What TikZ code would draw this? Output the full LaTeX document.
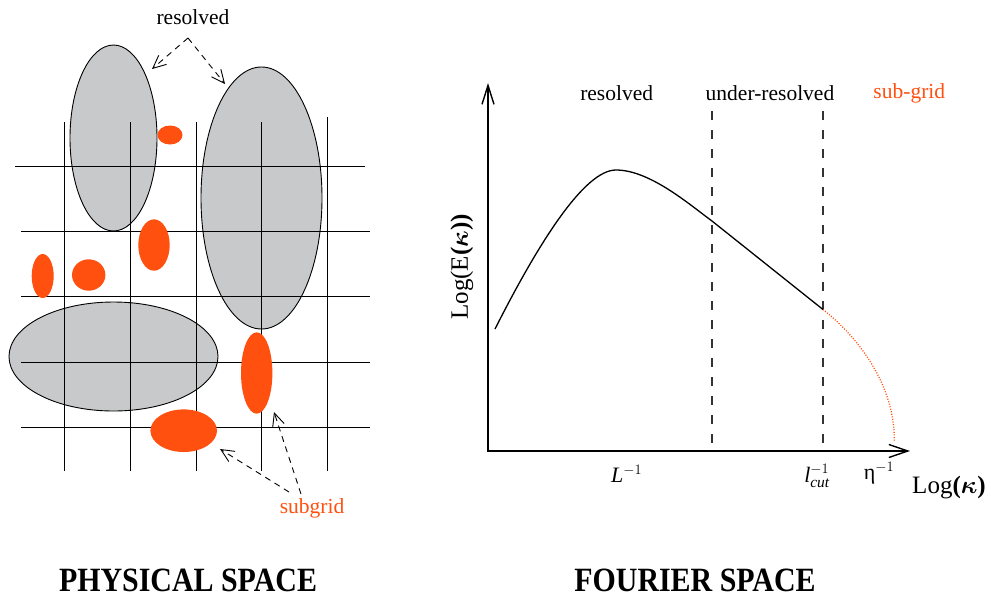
\documentclass[tikz,border=0pt]{standalone}
\usepackage{fontspec}
\setmainfont{Liberation Serif}
\usepackage{amsmath}
\usepackage{bm}
\usetikzlibrary{arrows.meta}
\definecolor{org}{HTML}{FF5010}
\definecolor{gry}{HTML}{C8C9CB}
\begin{document}
\begin{tikzpicture}[x=1pt,y=-1pt,
  grayell/.style={fill=gry,draw=black,line width=0.9pt},
  orgell/.style={fill=org},
  gridline/.style={line width=1.0pt},
  lbl/.style={font=\fontsize{21.5}{24}\selectfont, inner sep=0pt},
  mlbl/.style={font=\fontsize{22}{24}\selectfont, inner sep=0pt},
  biglbl/.style={font=\fontsize{25}{28}\selectfont, inner sep=0pt},
  title/.style={font=\fontsize{34}{36}\selectfont\bfseries, inner sep=0pt},
  dasharrow/.style={line width=0.9pt, dash pattern=on 6pt off 5pt, -{Straight Barb[length=13pt,width=12pt]}},
  axis/.style={line width=1.4pt, {Straight Barb[length=19pt,width=12pt]}-{Straight Barb[length=19pt,width=13pt]}},
  vdash/.style={line width=1.5pt, black!80, dash pattern=on 8.5pt off 10.5pt},
  curve/.style={line width=1.3pt},
  subcurve/.style={org, line width=1.3pt, dash pattern=on 1pt off 1.6pt}]
\useasboundingbox (0,0) rectangle (991,598);

% ---------- physical space ----------
\draw[grayell] (113.5,138) ellipse [x radius=43.5, y radius=93];
\draw[grayell] (261.5,198) ellipse [x radius=60.5, y radius=131];
\draw[grayell] (113.5,356.5) ellipse [x radius=104.5, y radius=54.5];

\foreach \xx in {64,130,196,261} \draw[gridline] (\xx,122) -- (\xx,471);
\draw[gridline] (327,117) -- (327,471);
\draw[gridline] (15,166) -- (365,166);
\foreach \yy in {231,296,362,427} \draw[gridline] (21,\yy) -- (370,\yy);

\fill[orgell] (170,135) ellipse [x radius=12.5, y radius=9.5];
\fill[orgell] (154,245) ellipse [x radius=15.7, y radius=25.7];
\fill[orgell] (42.7,276) ellipse [x radius=11, y radius=22];
\fill[orgell] (88.7,275) ellipse [x radius=16.7, y radius=15.7];
\fill[orgell] (256.7,373) ellipse [x radius=15.7, y radius=40.7];
\fill[orgell] (183.7,430.7) ellipse [x radius=33.3, y radius=21.3];

\node[lbl] (res) at (193,17) {resolved};
\coordinate (ra) at (188,38);
\coordinate (rl) at (152,69);
\coordinate (rr) at (225,84);
\draw[dasharrow] (ra) -- (rl);
\draw[dasharrow] (ra) -- (rr);

\node[lbl, text=org] (sub) at (312,508) {subgrid};
\coordinate (sl0) at (289,492);
\coordinate (sl1) at (220,449);
\coordinate (sr0) at (301,494);
\coordinate (sr1) at (274,412);
\draw[dasharrow] (sl0) -- (sl1);
\draw[dasharrow] (sr0) -- (sr1);

\node[title] (phys) at (188,580) {\scalebox{0.88}[1]{PHYSICAL SPACE}};

% ---------- Fourier space ----------
\coordinate (O) at (488,451);
\coordinate (ytip) at (488,83);
\coordinate (xtip) at (910,451);
\coordinate (d1t) at (712,111);
\coordinate (d1b) at (712,451);
\coordinate (d2t) at (823,111);
\coordinate (d2b) at (823,451);
\draw[vdash] (d1t) -- (d1b);
\draw[vdash] (d2t) -- (d2b);
\draw[axis] (ytip) -- (O) -- (xtip);

\coordinate (c0) at (495,329);
\coordinate (cp) at (616,170);
\coordinate (c1) at (712,221);
\coordinate (c2) at (823,309.5);
\coordinate (c3) at (894.3,441);
\draw[curve] (c0) .. controls (540,240) and (585,170) .. (cp)
  .. controls (650,170) and (690,205) .. (c1) -- (c2);
\draw[subcurve] (c2) .. controls (858,337) and (895,385) .. (c3);

\node[lbl] (tres) at (616.7,93) {resolved};
\node[lbl] (tunder) at (770,93) {under-resolved};
\node[lbl, text=org] (tsub) at (909.3,93) {sub-grid};

\node[mlbl] (Linv) at (626.7,474) {\textit{L}$^{-1}$};
\node[mlbl] (lcut) at (817,476) {\textit{l}$^{-1}_{\textit{cut}}$};
\node[mlbl] (eta) at (879,473) {η$^{-1}$};
\node[biglbl] (xlab) at (949,488) {Log\textbf{(}$\bm{\kappa}$\textbf{)}};
\node[biglbl, rotate=90] (ylab) at (462,267) {Log(E\textbf{(}$\bm{\kappa}$\textbf{))}};

\node[title] (four) at (695,580) {\scalebox{0.88}[1]{FOURIER SPACE}};
\end{tikzpicture}
\end{document}
